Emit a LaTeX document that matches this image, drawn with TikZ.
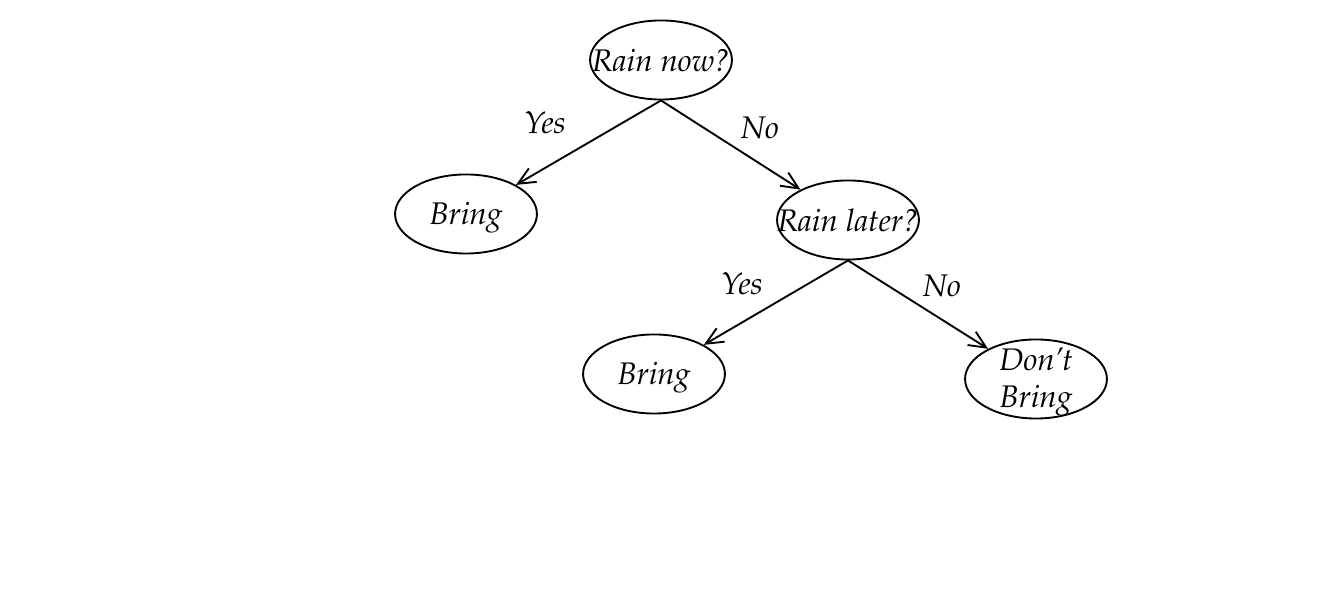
\documentclass[tikz,border=0pt]{standalone}
\usepackage[T1]{fontenc}
\usepackage{mathpazo}
\usetikzlibrary{shapes.geometric, arrows.meta}

\begin{document}
\begin{tikzpicture}[x = 0.32pt, y = -0.32pt,
	every node/.style = {font = \itshape},
	choice/.style = {draw, ellipse, line width = 0.6pt, minimum width = 45.4pt, minimum height = 25.3pt, inner sep = 0pt},
	branch/.style = {line width = 0.6pt, -{Straight Barb[length = 5.5pt, width = 5pt]}}]
	\useasboundingbox (0,0) rectangle (1322,602);
	
	% questions
	\node[choice, label = {center:Rain now?}] (now) at (661,60) {};
	\node[choice, label = {center:Rain later?}] (later) at (848,220) {};
	
	% answers
	\node[choice, label = {[yshift = -1pt]center:Bring}] (bring1) at (466,214) {};
	\node[choice, label = {[yshift = -1pt]center:Bring}] (bring2) at (654,374) {};
	\node[choice, label = {[align = center, yshift = -1pt]center:Don't\\Bring}] (dont) at (1036,379) {};
	
	% branches
	\draw[branch] (now.south) -- (bring1);
	\draw[branch] (now.south) -- (later);
	\draw[branch] (later.south) -- (bring2);
	\draw[branch] (later.south) -- (dont);
	
	% yes / no
	\node (yes1) at (545,123) {Yes};
	\node (no1) at (760,128) {No};
	\node (yes2) at (742,284) {Yes};
	\node (no2) at (942,286) {No};
	
\end{tikzpicture}
\end{document}
